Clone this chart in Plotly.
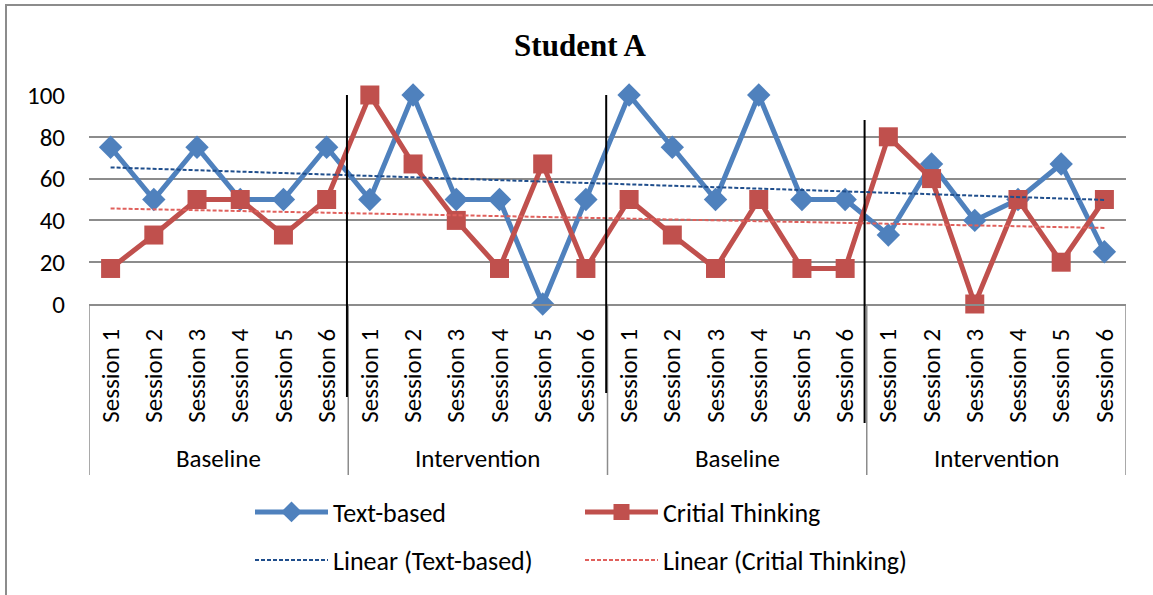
import numpy as np
import plotly.graph_objects as go

sessions = ["Session 1", "Session 2", "Session 3", "Session 4", "Session 5", "Session 6"]
phases = ["Baseline", "Intervention", "Baseline", "Intervention"]
text_based = [75, 50, 75, 50, 50, 75,
              50, 100, 50, 50, 0, 50,
              100, 75, 50, 100, 50, 50,
              33, 67, 40, 50, 67, 25]
critical = [17, 33, 50, 50, 33, 50,
            100, 67, 40, 17, 67, 17,
            50, 33, 17, 50, 17, 17,
            80, 60, 0, 50, 20, 50]

n = len(text_based)
xs = np.arange(n)
ticktext = sessions * len(phases)

BLUE = "#4F81BD"
RED = "#C0504D"
FONT = "Carlito, Calibri, Lato, sans-serif"
GRID = "#8C8C8C"

W, H = 1153, 595
# plot area geometry (pixels)
PL, PR, PT, PB = 89, 1126, 95, 304
L, T, R, B = PL, PT, W - PR, H - PB
PH = PB - PT

def py(pix):
    return (PB - pix) / PH

def px(pix):
    return (pix - PL) / (PR - PL)

def trend(vals):
    a, b = np.polyfit(xs, np.array(vals, dtype=float), 1)
    return a * xs + b

fig = go.Figure()
fig.add_trace(go.Scatter(x=xs, y=text_based, name="Text-based", mode="lines+markers",
                         line=dict(color=BLUE, width=5),
                         marker=dict(symbol="diamond", size=18, color=BLUE),
                         cliponaxis=False, legend="legend"))
fig.add_trace(go.Scatter(x=xs, y=critical, name="Critial Thinking", mode="lines+markers",
                         line=dict(color=RED, width=5),
                         marker=dict(symbol="square", size=19, color=RED),
                         cliponaxis=False, legend="legend"))
fig.add_trace(go.Scatter(x=xs, y=trend(text_based), name="Linear (Text-based)", mode="lines",
                         line=dict(color="#1F4E8C", width=2, dash="4px,2px"),
                         legend="legend2"))
fig.add_trace(go.Scatter(x=xs, y=trend(critical), name="Linear (Critial Thinking)", mode="lines",
                         line=dict(color="#E0605C", width=2, dash="4px,2px"),
                         legend="legend2"))

shapes = []
# category axis dividers
for xv in [-0.5, 5.5, 11.5, 17.5, 23.5]:
    shapes.append(dict(type="line", xref="x", yref="paper", x0=xv, x1=xv,
                       y0=py(304), y1=py(475), line=dict(color=GRID, width=1.5), layer="above"))
# phase change lines
for xv, top, bot in [(5.47, 95, 397), (11.47, 95, 393), (17.45, 120, 423)]:
    shapes.append(dict(type="line", xref="x", yref="paper", x0=xv, x1=xv,
                       y0=py(top), y1=py(bot), line=dict(color="black", width=2), layer="above"))
# chart border
shapes.append(dict(type="rect", xref="paper", yref="paper",
                   x0=px(6), x1=1.2, y0=py(5), y1=-2,
                   line=dict(color=GRID, width=2), fillcolor="rgba(0,0,0,0)", layer="below"))

annotations = []
for i, ph in enumerate(phases):
    annotations.append(dict(text=ph, x=i * 6 + 2.5, xref="x", y=py(458), yref="paper",
                            showarrow=False, font=dict(family=FONT, size=25, color="black"),
                            xanchor="center", yanchor="middle"))

legend_common = dict(orientation="h", xref="container", yref="container",
                     xanchor="left", yanchor="middle", entrywidth=242, entrywidthmode="pixels",
                     itemwidth=73, font=dict(family=FONT, size=26, color="black"),
                     bgcolor="rgba(0,0,0,0)", traceorder="normal")

fig.update_layout(
    width=W, height=H,
    margin=dict(l=L, r=R, t=T, b=B, autoexpand=False),
    paper_bgcolor="white", plot_bgcolor="white",
    title=dict(text="Student A", x=580 / W, xanchor="center",
               y=1 - 45 / H, yanchor="middle",
               xref="container", yref="container",
               font=dict(family="Liberation Serif, Times New Roman, serif", size=31,
                         color="black", weight="bold")),
    xaxis=dict(range=[-0.5, n - 0.5], tickvals=list(xs), ticktext=ticktext, tickangle=-90,
               showgrid=False, zeroline=False, showline=True, linecolor=GRID, linewidth=1.5,
               ticks="", ticklabelstandoff=13,
               tickfont=dict(family=FONT, size=25, color="black")),
    yaxis=dict(range=[0, 100], dtick=20, showgrid=True, gridcolor=GRID, gridwidth=1.5,
               zeroline=False, showline=False, ticks="", ticklabelstandoff=23,
               tickfont=dict(family=FONT, size=25, color="black")),
    legend=dict(x=250 / W, y=1 - 512 / H, **legend_common),
    legend2=dict(x=250 / W, y=1 - 560 / H, **legend_common),
    shapes=shapes,
    annotations=annotations,
    showlegend=True,
)

fig.write_html("out.html", config={"displayModeBar": False},
               post_script="document.body.style.margin='0';")
